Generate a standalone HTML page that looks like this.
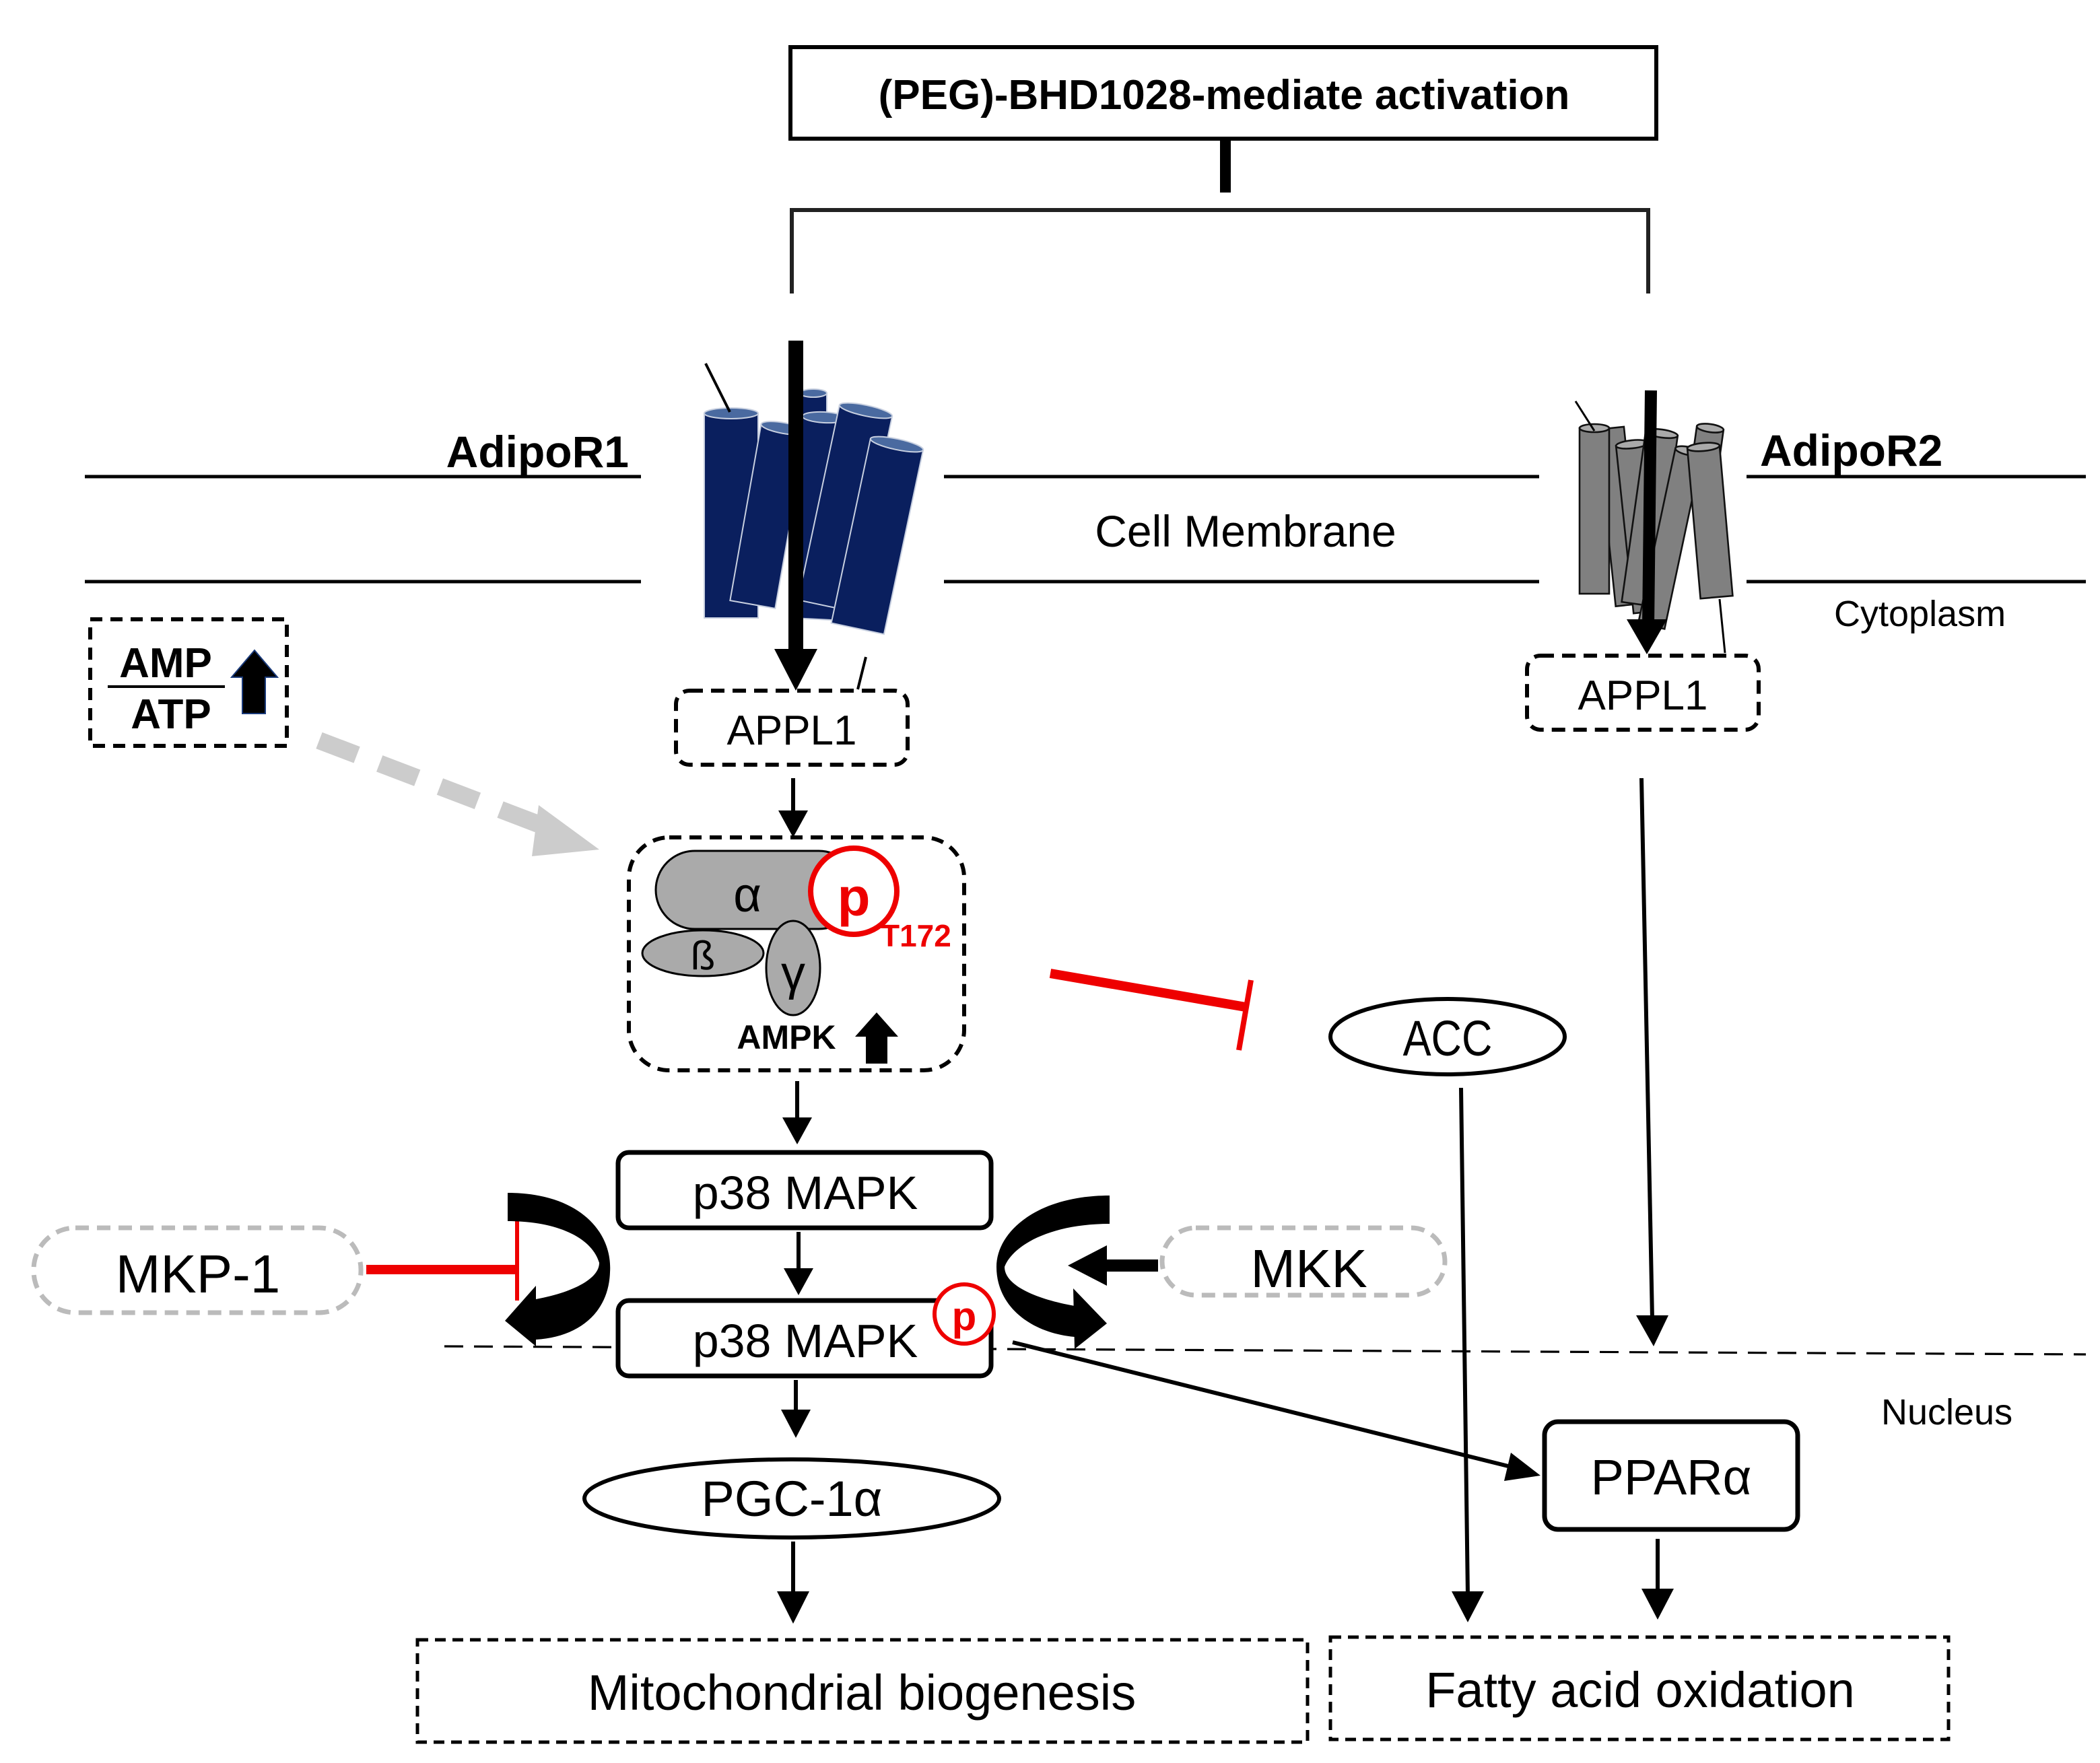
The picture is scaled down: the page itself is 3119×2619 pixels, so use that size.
<!DOCTYPE html>
<html><head><meta charset="utf-8"><style>
html,body{margin:0;padding:0;background:#fff;}
svg{display:block;}
text{font-family:"Liberation Sans",sans-serif;}
</style></head><body>
<svg width="3119" height="2619" viewBox="0 0 1559.5 1309.5" xmlns="http://www.w3.org/2000/svg">
<rect width="1559.5" height="1309.5" fill="#fff"/>

<!-- top box -->
<rect x="587" y="35" width="643" height="68" fill="#fff" stroke="#000" stroke-width="3"/>
<text x="909" y="81" font-size="31" font-weight="bold" text-anchor="middle">(PEG)-BHD1028-mediate activation</text>
<line x1="910" y1="103" x2="910" y2="143" stroke="#000" stroke-width="8"/>
<path d="M588,218 V156 H1224 V218" fill="none" stroke="#222" stroke-width="3"/>

<!-- membrane lines -->
<g stroke="#000" stroke-width="2.5">
<line x1="63" y1="354" x2="476" y2="354"/><line x1="701" y1="354" x2="1143" y2="354"/><line x1="1297" y1="354" x2="1549" y2="354"/>
<line x1="63" y1="432" x2="476" y2="432"/><line x1="701" y1="432" x2="1143" y2="432"/><line x1="1297" y1="432" x2="1549" y2="432"/>
</g>
<text x="467" y="347" font-size="33" font-weight="bold" text-anchor="end">AdipoR1</text>
<text x="1307" y="346" font-size="33" font-weight="bold">AdipoR2</text>
<text x="925" y="406" font-size="33" text-anchor="middle">Cell Membrane</text>
<text x="1362" y="465" font-size="27">Cytoplasm</text>
<text x="1397" y="1058" font-size="27">Nucleus</text>

<!-- AdipoR1 navy receptor -->
<g fill="#0a1f5e" stroke="#c8d0e0" stroke-width="1">
<g transform="translate(604,292)"><rect x="-10" y="0" width="20" height="150"/><ellipse cx="0" cy="0" rx="10" ry="3" fill="#4a6aa0"/></g>
<g transform="translate(543,307)"><rect x="-20" y="0" width="40" height="152"/><ellipse cx="0" cy="0" rx="20" ry="4" fill="#4a6aa0"/></g>
<g transform="translate(582,318) rotate(10)"><rect x="-17" y="0" width="34" height="133"/><ellipse cx="0" cy="0" rx="17" ry="4" fill="#4a6aa0"/></g>
<g transform="translate(612,310) rotate(3)"><rect x="-16" y="0" width="32" height="150"/><ellipse cx="0" cy="0" rx="16" ry="4" fill="#4a6aa0"/></g>
<g transform="translate(643,305) rotate(12)"><rect x="-20" y="0" width="40" height="148"/><ellipse cx="0" cy="0" rx="20" ry="4" fill="#4a6aa0"/></g>
<g transform="translate(666,330) rotate(12)"><rect x="-20" y="0" width="40" height="140"/><ellipse cx="0" cy="0" rx="20" ry="4" fill="#4a6aa0"/></g>
</g>
<line x1="524" y1="270" x2="542" y2="306" stroke="#000" stroke-width="2"/>
<line x1="643" y1="488" x2="637" y2="512" stroke="#000" stroke-width="2"/>
<line x1="591" y1="253" x2="591" y2="485" stroke="#000" stroke-width="11"/>
<polygon points="575,482 607,482 591,513" fill="#000"/>

<!-- AdipoR2 gray receptor -->
<g fill="#808080" stroke="#111" stroke-width="1.3">
<g transform="translate(1196,318) rotate(-6)"><rect x="-10" y="0" width="20" height="132"/></g>
<g transform="translate(1212,330) rotate(-6)"><rect x="-12" y="0" width="24" height="125"/><ellipse cx="0" cy="0" rx="12" ry="3" fill="#aaa"/></g>
<g transform="translate(1184,318)"><rect x="-11" y="0" width="22" height="123"/><ellipse cx="0" cy="0" rx="11" ry="3" fill="#aaa"/></g>
<g transform="translate(1270,318) rotate(8)"><rect x="-10" y="0" width="20" height="45"/><ellipse cx="0" cy="0" rx="10" ry="3" fill="#aaa"/></g>
<g transform="translate(1234,322) rotate(8)"><rect x="-12" y="0" width="24" height="128"/><ellipse cx="0" cy="0" rx="12" ry="3" fill="#aaa"/></g>
<g transform="translate(1254,335) rotate(12)"><rect x="-10" y="0" width="20" height="133"/><ellipse cx="0" cy="0" rx="10" ry="3" fill="#aaa"/></g>
<g transform="translate(1265,332) rotate(-5)"><rect x="-12" y="0" width="24" height="112"/><ellipse cx="0" cy="0" rx="12" ry="3" fill="#aaa"/></g>
</g>
<line x1="1170" y1="298" x2="1184" y2="320" stroke="#000" stroke-width="1.5"/>
<line x1="1277" y1="445" x2="1281" y2="485" stroke="#000" stroke-width="1.5"/>
<line x1="1226" y1="290" x2="1224" y2="465" stroke="#000" stroke-width="9"/>
<polygon points="1208,460 1238,460 1223,486" fill="#000"/>

<!-- APPL1 boxes -->
<rect x="502" y="513" width="172" height="55" rx="10" fill="#fff" stroke="#000" stroke-width="3" stroke-dasharray="10,6"/>
<text x="588" y="553" font-size="31" text-anchor="middle">APPL1</text>
<rect x="1134" y="487" width="172" height="55" rx="10" fill="#fff" stroke="#000" stroke-width="3" stroke-dasharray="10,6"/>
<text x="1220" y="527" font-size="31" text-anchor="middle">APPL1</text>

<!-- arrow APPL1 -> AMPK -->
<line x1="589" y1="578" x2="589" y2="605" stroke="#000" stroke-width="3"/>
<polygon points="578,602 600,602 589,622" fill="#000"/>

<!-- AMPK -->
<rect x="467" y="622" width="249" height="173" rx="30" fill="#fff" stroke="#000" stroke-width="3" stroke-dasharray="9,6"/>
<rect x="487" y="632" width="150" height="58" rx="29" fill="#aaa" stroke="#000" stroke-width="1.5"/>
<circle cx="634" cy="662" r="32" fill="#fff" stroke="#e00" stroke-width="4"/>
<text x="634" y="680" font-size="40" font-weight="bold" fill="#e00" text-anchor="middle">p</text>
<text x="555" y="677" font-size="36" text-anchor="middle">α</text>
<text x="654" y="703" font-size="23" font-weight="bold" fill="#e00">T172</text>
<ellipse cx="522" cy="708" rx="45" ry="17" fill="#aaa" stroke="#000" stroke-width="1.5"/>
<text x="522" y="720" font-size="30" font-family="Liberation Serif" text-anchor="middle">ß</text>
<ellipse cx="589" cy="719" rx="20" ry="35" fill="#aaa" stroke="#000" stroke-width="1.5"/>
<text x="589" y="735" font-size="36" text-anchor="middle">γ</text>
<text x="584" y="779" font-size="25" font-weight="bold" text-anchor="middle">AMPK</text>
<polygon points="651,752 667,770 659,770 659,790 643,790 643,770 635,770" fill="#000"/>

<!-- AMP/ATP -->
<rect x="67" y="460" width="146" height="94" fill="#fff" stroke="#000" stroke-width="3" stroke-dasharray="9,6"/>
<text x="123" y="503" font-size="31" font-weight="bold" text-anchor="middle">AMP</text>
<line x1="80" y1="510" x2="167" y2="510" stroke="#000" stroke-width="2"/>
<text x="127" y="541" font-size="31" font-weight="bold" text-anchor="middle">ATP</text>
<polygon points="189,483 206,503 197,503 197,530 180,530 180,503 172,503" fill="#000" stroke="#1a3a7a" stroke-width="1"/>
<line x1="237" y1="550" x2="410" y2="616" stroke="#ccc" stroke-width="13" stroke-dasharray="30,18"/>
<polygon points="400,598 445,631 395,636" fill="#ccc"/>

<!-- red inhibition to ACC -->
<line x1="780" y1="723" x2="925" y2="748" stroke="#e00" stroke-width="7"/>
<line x1="929" y1="728" x2="920" y2="780" stroke="#e00" stroke-width="4"/>

<!-- ACC -->
<ellipse cx="1075" cy="770" rx="87" ry="28" fill="#fff" stroke="#000" stroke-width="3"/>
<text x="1075" y="784" font-size="37" text-anchor="middle" transform="translate(1075,0) scale(0.85,1) translate(-1075,0)">ACC</text>
<line x1="1085" y1="808" x2="1090" y2="1185" stroke="#000" stroke-width="3"/>
<polygon points="1078,1182 1102,1182 1090,1205" fill="#000"/>

<!-- right long arrow -->
<line x1="1219" y1="578" x2="1227" y2="980" stroke="#000" stroke-width="3"/>
<polygon points="1215,977 1239,977 1228,1000" fill="#000"/>

<!-- AMPK -> p38 -->
<line x1="592" y1="803" x2="592" y2="833" stroke="#000" stroke-width="3"/>
<polygon points="581,830 603,830 592,850" fill="#000"/>

<!-- p38 boxes -->
<rect x="459" y="856" width="277" height="56" rx="8" fill="#fff" stroke="#000" stroke-width="3.5"/>
<text x="598" y="898" font-size="35" text-anchor="middle">p38 MAPK</text>
<line x1="593" y1="915" x2="593" y2="945" stroke="#000" stroke-width="3"/>
<polygon points="582,942 604,942 593,962" fill="#000"/>

<!-- nucleus dashed line -->
<line x1="330" y1="1000" x2="1549" y2="1006" stroke="#000" stroke-width="1.6" stroke-dasharray="14,8"/>

<rect x="459" y="966" width="277" height="56" rx="8" fill="#fff" stroke="#000" stroke-width="3.5"/>
<text x="598" y="1008" font-size="35" text-anchor="middle">p38 MAPK</text>
<circle cx="716" cy="976" r="22" fill="#fff" stroke="#e00" stroke-width="3"/>
<text x="716" y="988" font-size="30" font-weight="bold" fill="#e00" text-anchor="middle">p</text>

<!-- MKP-1 -->
<rect x="25" y="912" width="243" height="63" rx="31" fill="#fff" stroke="#bbb" stroke-width="3.5" stroke-dasharray="10,6"/>
<text x="147" y="960" font-size="40" text-anchor="middle">MKP-1</text>
<line x1="272" y1="943" x2="384" y2="943" stroke="#e00" stroke-width="7"/>
<line x1="384" y1="897" x2="384" y2="966" stroke="#e00" stroke-width="3"/>
<path d="M377,886 C430,886 455,915 453,945 C452,975 430,993 398,995 L398,965 C425,960 445,950 445,938 C440,920 415,907 377,907 Z" fill="#000"/>
<polygon points="398,955 398,1000 375,981" fill="#000"/>

<!-- MKK -->
<rect x="863" y="912" width="210" height="50" rx="25" fill="#fff" stroke="#bbb" stroke-width="3.5" stroke-dasharray="10,6"/>
<text x="972" y="956" font-size="40" text-anchor="middle">MKK</text>
<line x1="860" y1="940" x2="820" y2="940" stroke="#000" stroke-width="9"/>
<polygon points="822,925 822,955 793,940" fill="#000"/>
<path d="M824,888 C770,888 740,915 740,941 C740,970 765,990 798,993 L798,970 C770,965 746,955 746,941 C752,925 780,909 824,909 Z" fill="#000"/>
<polygon points="797,957 822,983 798,1002" fill="#000"/>

<!-- p38 -> PPAR -->
<line x1="752" y1="997" x2="1128" y2="1091" stroke="#000" stroke-width="3"/>
<polygon points="1122,1079 1144,1096 1117,1100" fill="#000"/>
<rect x="1147" y="1056" width="188" height="80" rx="10" fill="#fff" stroke="#000" stroke-width="3.5"/>
<text x="1241" y="1110" font-size="37" text-anchor="middle">PPARα</text>
<line x1="1231" y1="1143" x2="1231" y2="1183" stroke="#000" stroke-width="3"/>
<polygon points="1219,1180 1243,1180 1231,1203" fill="#000"/>

<!-- p38 -> PGC -->
<line x1="591" y1="1025" x2="591" y2="1050" stroke="#000" stroke-width="3"/>
<polygon points="580,1047 602,1047 591,1068" fill="#000"/>
<ellipse cx="588" cy="1113" rx="154" ry="29" fill="#fff" stroke="#000" stroke-width="3"/>
<text x="588" y="1126" font-size="37" text-anchor="middle">PGC-1α</text>
<line x1="589" y1="1145" x2="589" y2="1185" stroke="#000" stroke-width="3"/>
<polygon points="577,1182 601,1182 589,1206" fill="#000"/>

<!-- outcome boxes -->
<rect x="310" y="1218" width="661" height="76" fill="#fff" stroke="#000" stroke-width="2.5" stroke-dasharray="8,5"/>
<text x="640" y="1270" font-size="37" text-anchor="middle">Mitochondrial biogenesis</text>
<rect x="988" y="1216" width="459" height="76" fill="#fff" stroke="#000" stroke-width="2.5" stroke-dasharray="8,5"/>
<text x="1218" y="1268" font-size="37" text-anchor="middle">Fatty acid oxidation</text>
</svg>
</body></html>
